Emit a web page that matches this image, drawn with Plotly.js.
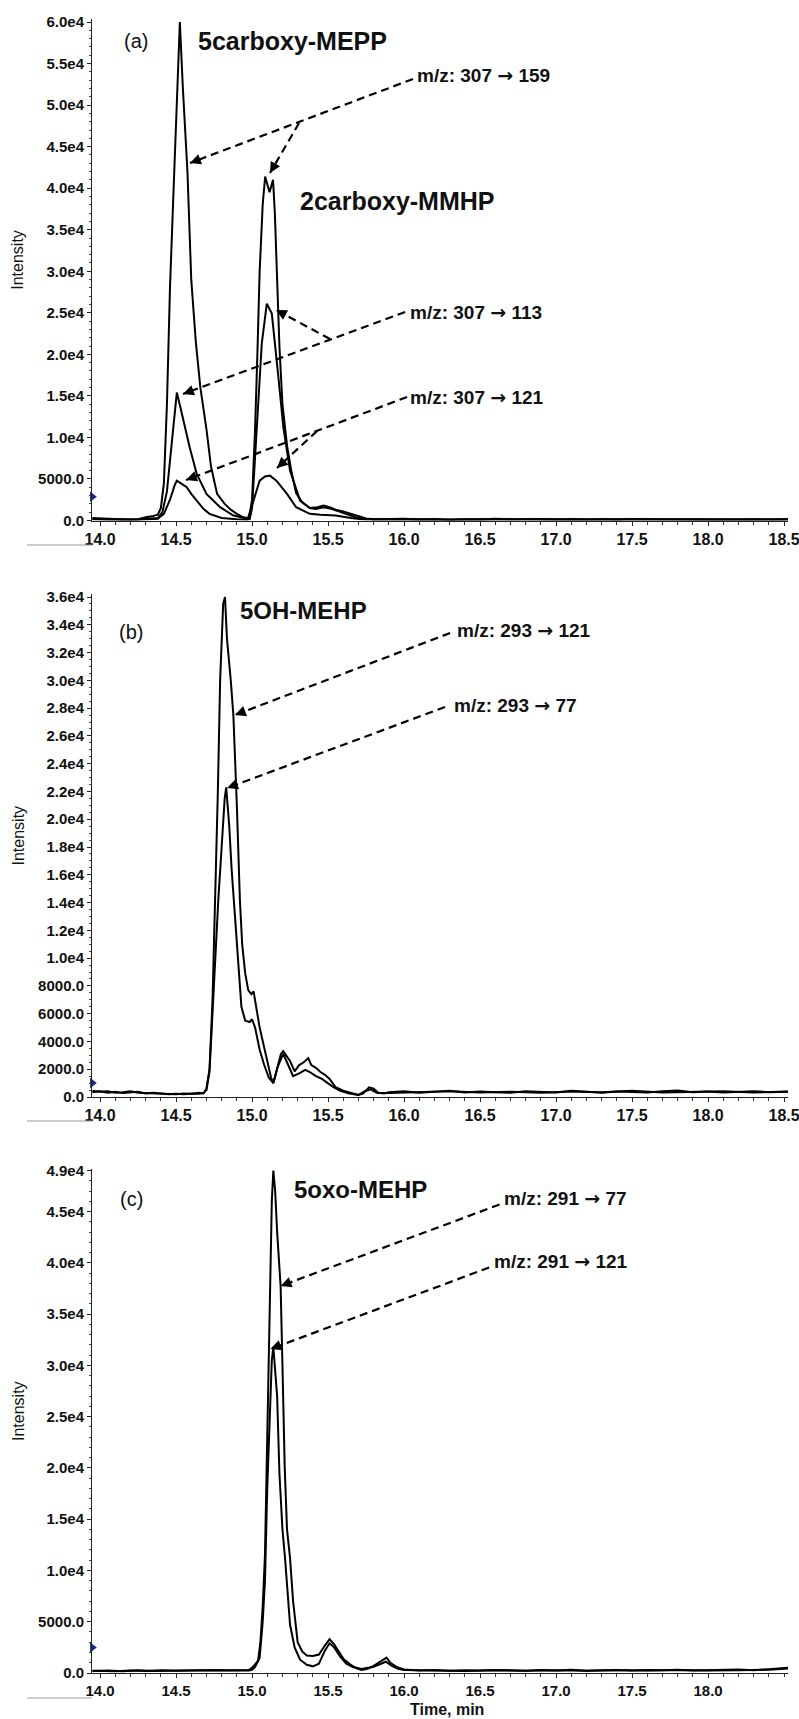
<!DOCTYPE html>
<html><head><meta charset="utf-8">
<script src="https://cdn.plot.ly/plotly-3.0.1.min.js"></script>
<style>html,body{margin:0;padding:0;background:#fff}#chart{width:799px;height:1719px}</style>
</head><body><div id="chart"></div>
<script>
// ---------------- DATA ----------------
// Panel (a): 5carboxy-MEPP / 2carboxy-MMHP, transitions m/z 307 -> 159, 113, 121
const a159_t = [13.95,14.00,14.05,14.10,14.15,14.20,14.25,14.30,14.34,14.38,14.40,14.42,14.44,14.46,14.48,14.50,14.525,14.545,14.575,14.60,14.63,14.66,14.70,14.73,14.77,14.82,14.86,14.90,14.94,14.97,14.98,15.00,15.02,15.035,15.05,15.07,15.086,15.115,15.138,15.15,15.162,15.18,15.20,15.23,15.26,15.29,15.33,15.38,15.43,15.47,15.51,15.55,15.60,15.65,15.70,15.75,15.80,15.90,16.00,16.10,16.20,16.30,16.40,16.50,16.60,16.70,16.80,16.90,17.00,17.10,17.20,17.30,17.40,17.50,17.60,17.70,17.80,17.90,18.00,18.10,18.20,18.30,18.40,18.50,18.526];
const a159_v = [300,250,200,150,150,100,150,400,500,700,1500,4500,14000,28000,38000,48000,60000,52000,42000,29000,21500,16000,11000,6500,3200,2000,1300,800,400,300,200,2500,11000,20000,30000,38000,41400,39500,41000,37000,30000,21000,14000,9000,5800,3300,2200,1500,1600,1800,1600,1300,1100,800,500,250,150,180,200,120,180,100,160,120,200,140,110,170,130,190,120,150,100,170,140,190,110,160,130,180,120,150,110,160,140];
const a113_t = [13.95,14.05,14.15,14.25,14.33,14.38,14.41,14.44,14.47,14.49,14.505,14.53,14.559,14.59,14.636,14.70,14.79,14.877,14.95,14.985,15.00,15.03,15.064,15.097,15.13,15.173,15.206,15.25,15.316,15.38,15.42,15.47,15.52,15.57,15.62,15.68,15.73,15.80,15.9,16.1,16.3,16.5,16.7,16.9,17.1,17.3,17.5,17.7,17.9,18.1,18.3,18.526];
const a113_v = [200,150,100,150,200,300,1000,3500,9000,13000,15400,13500,11200,8800,5600,3200,1600,600,300,200,1500,11200,21300,26100,24900,17300,11200,6000,2400,1500,1400,1600,1400,1100,800,400,200,150,120,160,90,150,110,170,100,140,120,160,100,150,120,130];
const a121_t = [13.95,14.05,14.15,14.25,14.33,14.38,14.42,14.46,14.49,14.505,14.53,14.57,14.60,14.636,14.68,14.72,14.80,14.90,14.97,15.01,15.05,15.085,15.118,15.16,15.23,15.29,15.38,15.45,15.55,15.65,15.72,15.8,16.0,16.2,16.4,16.6,16.8,17.0,17.2,17.4,17.6,17.8,18.0,18.2,18.4,18.526];
const a121_v = [150,100,150,100,150,200,800,2500,4200,4800,4500,4000,3200,2400,1400,800,300,150,100,2400,4800,5300,5400,4800,3200,1600,800,700,600,300,150,100,150,90,140,100,160,110,130,90,150,120,100,140,110,120];

// Panel (b): 5OH-MEHP, m/z 293 -> 121, 77
const b121_t = [13.95,14.00,14.05,14.10,14.15,14.20,14.25,14.30,14.35,14.40,14.45,14.50,14.55,14.60,14.65,14.68,14.70,14.72,14.74,14.757,14.775,14.79,14.81,14.822,14.835,14.86,14.877,14.90,14.92,14.935,14.955,14.975,14.995,15.01,15.025,15.05,15.075,15.10,15.125,15.14,15.165,15.19,15.205,15.23,15.25,15.28,15.31,15.34,15.37,15.39,15.42,15.45,15.48,15.51,15.55,15.60,15.65,15.70,15.73,15.77,15.80,15.83,15.87,15.9,16.0,16.1,16.2,16.3,16.4,16.5,16.6,16.7,16.8,16.9,17.0,17.1,17.2,17.3,17.4,17.5,17.6,17.7,17.8,17.9,18.0,18.1,18.2,18.3,18.4,18.5,18.526];
const b121_v = [450,380,420,300,350,420,300,280,250,200,220,200,250,220,300,250,600,2000,7000,14000,22000,30000,35500,36000,33000,30000,27500,21000,14200,11000,8900,7700,7400,7600,6500,5000,3800,2500,1400,1000,2000,3100,3300,2900,2600,1850,2300,2500,2800,2300,2100,1800,1600,1300,700,450,300,150,250,700,600,300,250,350,420,300,380,450,320,400,350,300,420,380,330,450,360,300,400,380,320,420,460,350,400,330,380,420,350,400,380];
const b77_t = [13.95,14.00,14.05,14.10,14.15,14.20,14.25,14.30,14.35,14.40,14.45,14.50,14.55,14.60,14.65,14.68,14.70,14.72,14.74,14.76,14.778,14.80,14.82,14.83,14.85,14.865,14.88,14.90,14.93,14.955,14.985,15.00,15.02,15.05,15.08,15.11,15.14,15.17,15.205,15.23,15.27,15.31,15.35,15.38,15.42,15.46,15.50,15.53,15.58,15.64,15.70,15.74,15.78,15.82,15.9,16.1,16.3,16.5,16.7,16.9,17.1,17.3,17.5,17.7,17.9,18.1,18.3,18.526];
const b77_v = [350,420,300,380,280,330,380,250,300,260,200,240,190,260,230,280,500,1800,6000,11000,14200,18000,21500,22300,19500,16500,14200,10500,6500,5500,5400,5600,5000,3400,2300,1400,1000,2200,3100,2500,1500,1700,1950,1800,1500,1300,950,750,450,250,150,400,550,300,280,350,420,330,380,300,400,350,450,320,380,420,330,400];

// Panel (c): 5oxo-MEHP, m/z 291 -> 77, 121
const c77_t = [13.95,14.05,14.15,14.25,14.35,14.45,14.55,14.65,14.75,14.85,14.92,14.98,15.00,15.02,15.04,15.055,15.07,15.085,15.10,15.115,15.13,15.14,15.152,15.165,15.188,15.20,15.215,15.23,15.25,15.27,15.30,15.33,15.36,15.40,15.44,15.48,15.51,15.54,15.57,15.60,15.64,15.68,15.72,15.76,15.80,15.85,15.885,15.91,15.95,16.0,16.1,16.2,16.3,16.4,16.5,16.6,16.7,16.8,16.9,17.0,17.1,17.2,17.3,17.4,17.5,17.6,17.7,17.8,17.9,18.0,18.1,18.2,18.3,18.4,18.45,18.526];
const c77_v = [200,250,180,260,200,230,280,250,300,260,280,300,500,900,1200,3000,6500,11500,22000,35000,46000,49000,47000,43000,37700,30000,20000,14000,11200,7000,3000,2100,1700,1650,1800,2700,3300,2800,2100,1400,900,500,300,400,700,1200,1500,1000,600,350,250,300,220,280,240,300,260,220,290,250,310,230,270,300,240,290,260,320,250,300,280,330,260,350,420,520];
const c121_t = [13.95,14.10,14.20,14.30,14.40,14.50,14.60,14.70,14.80,14.90,14.98,15.00,15.02,15.05,15.07,15.085,15.10,15.115,15.13,15.14,15.15,15.165,15.18,15.20,15.217,15.235,15.25,15.28,15.316,15.36,15.40,15.44,15.48,15.51,15.54,15.58,15.62,15.66,15.72,15.80,15.88,15.92,15.96,16.0,16.2,16.4,16.6,16.8,17.0,17.2,17.4,17.6,17.8,18.0,18.2,18.4,18.526];
const c121_v = [220,180,240,200,260,210,250,230,270,240,250,300,600,1500,5000,9000,18000,25000,30500,31800,30000,27000,19500,14000,11200,7500,4700,2500,1300,800,650,900,2200,2900,2500,1600,900,600,400,600,1100,700,400,300,250,200,270,230,280,220,260,240,300,250,280,320,450];

// Tick labels
const xTickVals = [14.0,14.5,15.0,15.5,16.0,16.5,17.0,17.5,18.0,18.5];
const xTickText = ['14.0','14.5','15.0','15.5','16.0','16.5','17.0','17.5','18.0','18.5'];
const xTickValsC = [14.0,14.5,15.0,15.5,16.0,16.5,17.0,17.5,18.0];
const xTickTextC = ['14.0','14.5','15.0','15.5','16.0','16.5','17.0','17.5','18.0'];
const yTickValsA = [0,5000,10000,15000,20000,25000,30000,35000,40000,45000,50000,55000,60000];
const yTickTextA = ['0.0','5000.0','1.0e4','1.5e4','2.0e4','2.5e4','3.0e4','3.5e4','4.0e4','4.5e4','5.0e4','5.5e4','6.0e4'];
const yTickValsB = [0,2000,4000,6000,8000,10000,12000,14000,16000,18000,20000,22000,24000,26000,28000,30000,32000,34000,36000];
const yTickTextB = ['0.0','2000.0','4000.0','6000.0','8000.0','1.0e4','1.2e4','1.4e4','1.6e4','1.8e4','2.0e4','2.2e4','2.4e4','2.6e4','2.8e4','3.0e4','3.2e4','3.4e4','3.6e4'];
const yTickValsC = [0,5000,10000,15000,20000,25000,30000,35000,40000,45000,49000];
const yTickTextC = ['0.0','5000.0','1.0e4','1.5e4','2.0e4','2.5e4','3.0e4','3.5e4','4.0e4','4.5e4','4.9e4'];

// Text labels
const panelTags = ['(a)','(b)','(c)'];
const compoundsA = ['5carboxy-MEPP','2carboxy-MMHP'];
const compoundB = '5OH-MEHP';
const compoundC = '5oxo-MEHP';
const transA = [['307','159'],['307','113'],['307','121']];
const transB = [['293','121'],['293','77']];
const transC = [['291','77'],['291','121']];

// ---------------- LAYOUT GEOMETRY ----------------
const W = 799, H = 1719;
const FONT = 'Liberation Sans, Arial, Helvetica, sans-serif';
const X_LEFT = 92, X_RIGHT = 788;
const X_RANGE = [13.947, 18.526];
const P = [
  {top: 19,   bottom: 520.5, ymax: 60361, xa: 'x',  ya: 'y',  marker: 2865},
  {top: 594,  bottom: 1097,  ymax: 36216, xa: 'x2', ya: 'y2', marker: 1008},
  {top: 1169, bottom: 1673,  ymax: 49000*504/502.5, xa: 'x3', ya: 'y3', marker: 2486}
];

function mzText(pair){
  return 'm/z: ' + pair[0] + ' <span style="font-family:DejaVu Sans">\u2192</span> ' + pair[1];
}

// arrow (dashed leader) geometry in data coordinates [time, intensity]
const arrowsByPanel = [
  [ {tail:[16.059,53140], head:[14.592,43030]},
    {tail:[15.309,47840], head:[15.118,41825]},
    {tail:[16.007,25095], head:[14.546,15225]},
    {tail:[15.513,21845], head:[15.158,25336]},
    {tail:[16.020,14864], head:[14.566,4875]},
    {tail:[15.428,10772], head:[15.164,6319]} ],
  [ {tail:[16.303,33408], head:[14.888,27504]},
    {tail:[16.270,28080], head:[14.836,22248]} ],
  [ {tail:[16.628,45683], head:[15.188,37736]},
    {tail:[16.560,39540], head:[15.121,31593]} ]
];

const labelsByPanel = [
  [ {text:panelTags[0], at:[14.237,57712], size:20, bold:false, anchor:'center'},
    {text:compoundsA[0], at:[14.630,57712], size:25, bold:true},
    {text:compoundsA[1], at:[15.300,38455], size:25, bold:true},
    {text:mzText(transA[0]), at:[16.072,53620], size:19, bold:true},
    {text:mzText(transA[1]), at:[16.026,25095], size:19, bold:true},
    {text:mzText(transA[2]), at:[16.026,14864], size:19, bold:true} ],
  [ {text:panelTags[1], at:[14.204,33480], size:20, bold:false, anchor:'center'},
    {text:compoundB, at:[14.905,35064], size:24, bold:true},
    {text:mzText(transB[0]), at:[16.336,33624], size:19, bold:true},
    {text:mzText(transB[1]), at:[16.316,28224], size:19, bold:true} ],
  [ {text:panelTags[2], at:[14.210,46220], size:20, bold:false, anchor:'center'},
    {text:compoundC, at:[15.262,47117], size:24, bold:true},
    {text:mzText(transC[0]), at:[16.644,46327], size:19, bold:true},
    {text:mzText(transC[1]), at:[16.577,40155], size:19, bold:true} ]
];

function xpx(t){ return X_LEFT + (t - X_RANGE[0]) / (X_RANGE[1] - X_RANGE[0]) * (X_RIGHT - X_LEFT); }
function ypx(p, v){ return p.bottom - v / p.ymax * (p.bottom - p.top); }

function range(a, b, s){ const out=[]; for(let k=0; a + k*s <= b + 1e-9; k++) out.push(+(a + k*s).toFixed(4)); return out; }

// ---------------- TRACES ----------------
function lineTrace(t, v, p){
  return {type:'scatter', mode:'lines', x:t, y:v, xaxis:p.xa, yaxis:p.ya,
          line:{color:'#000', width:2}, hoverinfo:'skip', showlegend:false};
}
const traces = [
  lineTrace(a159_t, a159_v, P[0]), lineTrace(a113_t, a113_v, P[0]), lineTrace(a121_t, a121_v, P[0]),
  lineTrace(b121_t, b121_v, P[1]), lineTrace(b77_t, b77_v, P[1]),
  lineTrace(c77_t, c77_v, P[2]), lineTrace(c121_t, c121_v, P[2])
];
P.forEach(p => traces.push({type:'scatter', mode:'markers', x:[X_RANGE[0] + 0.002], y:[p.marker], xaxis:p.xa, yaxis:p.ya,
  marker:{symbol:'triangle-right', size:9, color:'#1b2a8a'}, cliponaxis:false, hoverinfo:'skip', showlegend:false}));

// ---------------- AXES ----------------
const axBase = {showline:true, linecolor:'#222', linewidth:1, ticks:'outside', ticklen:4, tickwidth:1,
  tickcolor:'#222', showgrid:false, zeroline:false, fixedrange:true, tickmode:'array', ticklabeloverflow:'allow'};
const xMinor = {ticks:'outside', ticklen:3, tickwidth:1, tickcolor:'#333', tickmode:'array', tickvals:range(14.0, 18.5, 0.1)};
function yMinor(step, max){ return {ticks:'outside', ticklen:2, tickwidth:1, tickcolor:'#444', tickmode:'array', tickvals:range(0, max, step)}; }

const layout = {
  width:W, height:H, margin:{l:0, r:0, t:0, b:0}, paper_bgcolor:'#fff', plot_bgcolor:'#fff', showlegend:false,
  font:{family:FONT, color:'#111'},
  shapes:[], annotations:[]
};
const xKeys = ['xaxis','xaxis2','xaxis3'], yKeys = ['yaxis','yaxis2','yaxis3'];
const yTV = [yTickValsA, yTickValsB, yTickValsC], yTT = [yTickTextA, yTickTextB, yTickTextC];
const yStep = [1000, 500, 1000], yMaxTick = [60000, 36000, 49000];
P.forEach((p, i) => {
  layout[xKeys[i]] = Object.assign({}, axBase, {
    domain:[X_LEFT/W, X_RIGHT/W], range:X_RANGE, anchor:p.ya,
    tickvals: i === 2 ? xTickValsC : xTickVals, ticktext: i === 2 ? xTickTextC : xTickText,
    tickfont:{family:FONT, size: i === 2 ? 15 : 16, color:'#111', weight:'bold'}, minor:xMinor });
  layout[yKeys[i]] = Object.assign({}, axBase, {
    domain:[1 - p.bottom/H, 1 - p.top/H], range:[0, p.ymax], anchor:p.xa,
    tickvals:yTV[i], ticktext:yTT[i],
    tickfont:{family:FONT, size:15, color:'#111', weight:'bold'}, minor:yMinor(yStep[i], yMaxTick[i]) });

  // y-axis title
  layout.annotations.push({xref:'paper', yref:'paper', x:18/W, y:1 - ((p.top + p.bottom)/2 - 10)/H,
    text:'Intensity', textangle:-90, showarrow:false, xanchor:'center', yanchor:'middle',
    font:{family:FONT, size:16, color:'#111'}});

  // gray rule under each panel's origin
  const gy = [545, 1121, 1698][i];
  layout.shapes.push({type:'line', xref:'paper', yref:'paper', x0:27/W, x1:X_LEFT/W, y0:1-gy/H, y1:1-gy/H,
    line:{color:'#9a9a9a', width:1}});

  // dashed leaders + arrowheads
  arrowsByPanel[i].forEach(a => {
    layout.shapes.push({type:'line', xref:p.xa, yref:p.ya, x0:a.tail[0], y0:a.tail[1], x1:a.head[0], y1:a.head[1],
      line:{color:'#000', width:2.2, dash:'8px,5px'}});
    const dx = xpx(a.tail[0]) - xpx(a.head[0]), dy = ypx(p, a.tail[1]) - ypx(p, a.head[1]);
    const L = Math.hypot(dx, dy);
    layout.annotations.push({xref:p.xa, yref:p.ya, x:a.head[0], y:a.head[1], ax:dx/L*11, ay:dy/L*11,
      text:'', showarrow:true, arrowhead:2, arrowsize:1.2, arrowwidth:1.8, arrowcolor:'#000', standoff:0});
  });

  // text labels
  labelsByPanel[i].forEach(l => {
    layout.annotations.push({xref:p.xa, yref:p.ya, x:l.at[0], y:l.at[1],
      text: l.bold ? '<b>' + l.text + '</b>' : l.text, showarrow:false,
      xanchor: l.anchor || 'left', yanchor:'middle',
      font:{family:FONT, size:l.size, color:'#111'}});
  });
});

// x-axis title on the bottom panel
layout.annotations.push({xref:'paper', yref:'paper', x:447/W, y:1 - 1709/H, text:'<b>Time, min</b>',
  showarrow:false, xanchor:'center', yanchor:'middle', borderpad:0, font:{family:FONT, size:16, color:'#111'}});

Plotly.newPlot('chart', traces, layout, {staticPlot:true, displayModeBar:false});
</script>
</body></html>
